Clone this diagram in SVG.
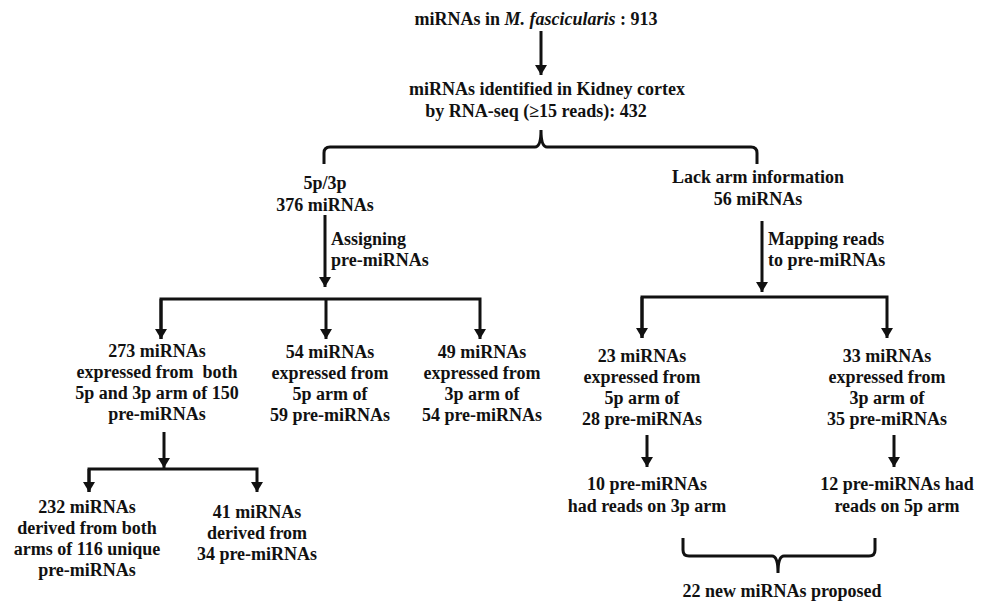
<svg xmlns="http://www.w3.org/2000/svg" width="985" height="601" viewBox="0 0 985 601">
<style>
text{font-family:"Liberation Serif","Times New Roman",serif;font-weight:bold;font-size:18px;fill:#111}
.c{text-anchor:middle}
.ln{stroke:#111;stroke-width:3;fill:none}
</style>
<defs>
<marker id="ah" viewBox="0 0 10 12" refX="10" refY="6" markerWidth="10" markerHeight="12" markerUnits="userSpaceOnUse" orient="auto">
<path d="M0,0 L10,6 L0,12 z" fill="#111"/>
</marker>
</defs>
<rect width="985" height="601" fill="#fff"/>
<g id="connectors">
<line class="ln" x1="541" y1="31" x2="541" y2="75" marker-end="url(#ah)"/>
<path class="ln" d="M324,164 L324,153 Q324,147 330,147 L535,147 Q541,147 541,130 Q541,147 547,147 L751,147 Q757,147 757,153 L757,164"/>
<line class="ln" x1="325" y1="215" x2="325" y2="287" marker-end="url(#ah)"/>
<path class="ln" d="M161,339 L161,299 L480,299 L480,339" marker-end="url(#ah)"/>
<line class="ln" x1="161" y1="299" x2="161" y2="339" marker-end="url(#ah)"/>
<line class="ln" x1="326" y1="299" x2="326" y2="339" marker-end="url(#ah)"/>
<line class="ln" x1="762" y1="221" x2="762" y2="292" marker-end="url(#ah)"/>
<path class="ln" d="M642,338 L642,297 L887,297 L887,338" marker-end="url(#ah)"/>
<line class="ln" x1="642" y1="297" x2="642" y2="338" marker-end="url(#ah)"/>
<line class="ln" x1="164" y1="432" x2="164" y2="468" marker-end="url(#ah)"/>
<path class="ln" d="M89,492 L89,469 L257,469 L257,492" marker-end="url(#ah)"/>
<line class="ln" x1="89" y1="469" x2="89" y2="492" marker-end="url(#ah)"/>
<line class="ln" x1="647" y1="435" x2="647" y2="467" marker-end="url(#ah)"/>
<line class="ln" x1="894" y1="435" x2="894" y2="467" marker-end="url(#ah)"/>
<path class="ln" d="M683,538 L683,550 Q683,556 689,556 L772,556 Q778,556 778,573 Q778,556 784,556 L869,556 Q875,556 875,550 L875,538"/>
</g>
<g id="n-total"><text class="c" x="536" y="25">miRNAs in <tspan font-style="italic">M. fascicularis</tspan> : 913</text></g>
<g id="n-kidney">
<text class="c" x="547" y="95">miRNAs identified in Kidney cortex</text>
<text class="c" x="536" y="117">by RNA-seq (≥15 reads): 432</text>
</g>
<g id="n-5p3p">
<text class="c" x="325" y="189">5p/3p</text>
<text class="c" x="325" y="211">376 miRNAs</text>
</g>
<g id="l-assign">
<text x="331" y="245">Assigning</text>
<text x="331" y="266">pre-miRNAs</text>
</g>
<g id="n-lack">
<text class="c" x="758" y="183">Lack arm information</text>
<text class="c" x="758" y="205">56 miRNAs</text>
</g>
<g id="l-mapping">
<text x="768" y="245">Mapping reads</text>
<text x="768" y="266">to pre-miRNAs</text>
</g>
<g id="n-273">
<text class="c" x="157" y="357">273 miRNAs</text>
<text class="c" x="157" y="378" xml:space="preserve">expressed from  both</text>
<text class="c" x="157" y="399">5p and 3p arm of 150</text>
<text class="c" x="157" y="420">pre-miRNAs</text>
</g>
<g id="n-54">
<text class="c" x="330" y="358">54 miRNAs</text>
<text class="c" x="330" y="379">expressed from</text>
<text class="c" x="330" y="400">5p arm of</text>
<text class="c" x="330" y="421">59 pre-miRNAs</text>
</g>
<g id="n-49">
<text class="c" x="482" y="358">49 miRNAs</text>
<text class="c" x="482" y="379">expressed from</text>
<text class="c" x="482" y="400">3p arm of</text>
<text class="c" x="482" y="421">54 pre-miRNAs</text>
</g>
<g id="n-23">
<text class="c" x="642" y="362">23 miRNAs</text>
<text class="c" x="642" y="383">expressed from</text>
<text class="c" x="642" y="404">5p arm of</text>
<text class="c" x="642" y="425">28 pre-miRNAs</text>
</g>
<g id="n-33">
<text class="c" x="887" y="362">33 miRNAs</text>
<text class="c" x="887" y="383">expressed from</text>
<text class="c" x="887" y="404">3p arm of</text>
<text class="c" x="887" y="425">35 pre-miRNAs</text>
</g>
<g id="n-232">
<text class="c" x="87" y="513">232 miRNAs</text>
<text class="c" x="87" y="534">derived from both</text>
<text class="c" x="87" y="555">arms of 116 unique</text>
<text class="c" x="87" y="576">pre-miRNAs</text>
</g>
<g id="n-41">
<text class="c" x="257" y="518">41 miRNAs</text>
<text class="c" x="257" y="539">derived from</text>
<text class="c" x="257" y="560">34 pre-miRNAs</text>
</g>
<g id="n-10">
<text class="c" x="647" y="490">10 pre-miRNAs</text>
<text class="c" x="647" y="512">had reads on 3p arm</text>
</g>
<g id="n-12">
<text class="c" x="897" y="490">12 pre-miRNAs had</text>
<text class="c" x="897" y="512">reads on 5p arm</text>
</g>
<g id="n-22"><text class="c" x="782" y="597">22 new miRNAs proposed</text></g>
</svg>
